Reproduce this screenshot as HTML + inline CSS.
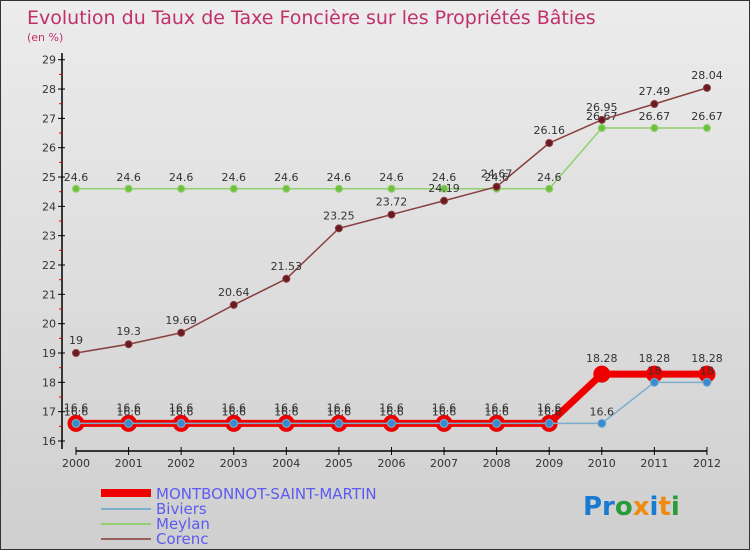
<!DOCTYPE html>
<html><head><meta charset="utf-8"><style>
body{margin:0}
#c{width:750px;height:550px;position:relative;background:linear-gradient(#ececec,#cfcfcf);box-sizing:border-box;border:1px solid #333;font-family:"DejaVu Sans","Liberation Sans",sans-serif;overflow:hidden}
text{font-family:"DejaVu Sans","Liberation Sans",sans-serif}
</style></head><body>
<div id="c">
<svg id="s" width="750" height="550">
<text x="26" y="23" font-size="19" fill="#c0306a">Evolution du Taux de Taxe Foncière sur les Propriétés Bâties</text>
<text x="26" y="40" font-size="11" fill="#c0306a">(en %)</text>
<g id="g"></g>
<g>
<rect x="100" y="488" width="50" height="8" fill="#e00"/>
<text x="155" y="498" font-size="15" fill="#5b5bf0">MONTBONNOT-SAINT-MARTIN</text>
<rect x="100" y="507" width="50" height="2" fill="#7aaecc"/>
<text x="155" y="513" font-size="15" fill="#5b5bf0">Biviers</text>
<rect x="100" y="522" width="50" height="2" fill="#90d070"/>
<text x="155" y="528" font-size="15" fill="#5b5bf0">Meylan</text>
<rect x="100" y="537" width="50" height="2" fill="#996060"/>
<text x="155" y="543" font-size="15" fill="#5b5bf0">Corenc</text>
</g>
<text x="582" y="514" font-size="26" font-weight="bold"><tspan fill="#1a7ad0">Pr</tspan><tspan fill="#2a9a3a">o</tspan><tspan fill="#f08a10">x</tspan><tspan fill="#1a7ad0">i</tspan><tspan fill="#f08a10">t</tspan><tspan fill="#2a9a3a">i</tspan></text>
</svg></div>
<script>
const years=[2000,2001,2002,2003,2004,2005,2006,2007,2008,2009,2010,2011,2012];
const yTicks=[16,17,18,19,20,21,22,23,24,25,26,27,28,29];
const montbonnot=[16.6,16.6,16.6,16.6,16.6,16.6,16.6,16.6,16.6,16.6,18.28,18.28,18.28];
const biviers=[16.6,16.6,16.6,16.6,16.6,16.6,16.6,16.6,16.6,16.6,16.6,18,18];
const meylan=[24.6,24.6,24.6,24.6,24.6,24.6,24.6,24.6,24.6,24.6,26.67,26.67,26.67];
const corenc=[19,19.3,19.69,20.64,21.53,23.25,23.72,24.19,24.67,26.16,26.95,27.49,28.04];
const X=i=>75+i*52.58, Y=v=>440-(v-16)*29.33;
const g=document.getElementById('g'),NS='http://www.w3.org/2000/svg';
function mk(t,a,name){const e=document.createElementNS(NS,t);for(const k in a)e.setAttribute(k,a[k]);


g.appendChild(e);return e;}
mk('line',{x1:61,y1:52,x2:61,y2:448,stroke:'#000','stroke-width':1.5},'y-axis');
mk('line',{x1:75,y1:450,x2:706,y2:450,stroke:'#000','stroke-width':1.5},'x-axis');
yTicks.forEach(v=>{mk('line',{x1:57,y1:Y(v),x2:64,y2:Y(v),stroke:'#000'},'y-tick');
if(v<29)mk('line',{x1:58,y1:Y(v+0.5),x2:61,y2:Y(v+0.5),stroke:'#e00'},'y-minor-tick');
const t=mk('text',{x:55,y:Y(v)+4,'font-size':11,'text-anchor':'end',fill:'#333'},'y-tick-label');t.textContent=v;});
years.forEach((yr,i)=>{mk('line',{x1:X(i),y1:446,x2:X(i),y2:454,stroke:'#000'},'x-tick');
const t=mk('text',{x:X(i),y:466,'font-size':11,'text-anchor':'middle',fill:'#333'},'x-tick-label');t.textContent=yr;});
function series(d,col,w,r,fillc,name,lab,dy){
mk('polyline',{points:d.map((v,i)=>X(i)+','+Y(v)).join(' '),fill:'none',stroke:col,'stroke-width':w,'stroke-linejoin':'round'},name+'-line');
d.forEach((v,i)=>{mk('circle',{cx:X(i),cy:Y(v),r:r,fill:fillc,stroke:col,'stroke-width':r>5?3:1},name+'-point');
if(lab){const t=mk('text',{x:X(i),y:Y(v)+dy,'font-size':11,'text-anchor':'middle',fill:'#333'},name+'-value-label');t.textContent=String(v).replace(/^(\d+)\.(\d)$/,'$1.$2');}});}
series(meylan,'#90d070',1.5,3.5,'#70c040','meylan',true,-8);
series(corenc,'#8a4040',1.5,3.5,'#6a1a20','corenc',true,-9);
series(montbonnot,'#e00',7,7,'#e00','montbonnot',true,-12);
series(biviers,'#7aaecc',1.5,4,'#3a8ad0','biviers',true,-8);
</script>
</body></html>
